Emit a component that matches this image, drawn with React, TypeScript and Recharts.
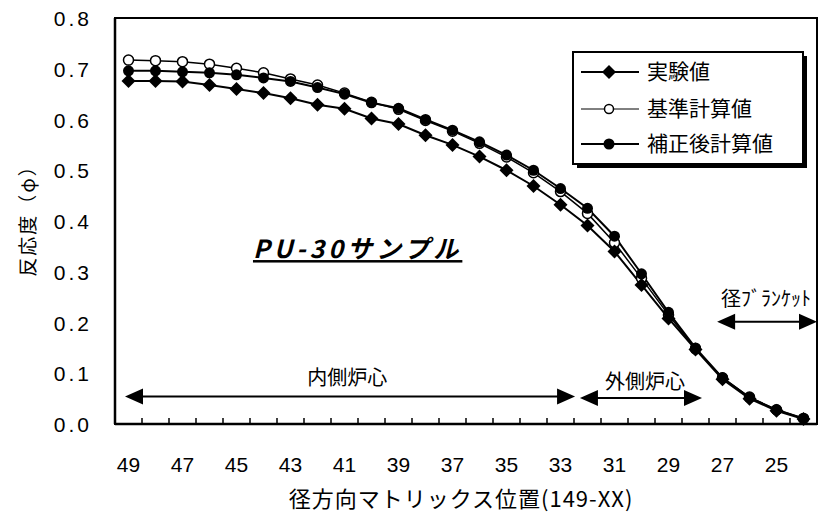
import { LineChart, Line, XAxis, YAxis, ReferenceArea, ReferenceLine, ReferenceDot } from 'recharts';

// radial matrix position (149-XX), read right to left
const positions = [49, 48, 47, 46, 45, 44, 43, 42, 41, 40, 39, 38, 37, 36, 35, 34, 33, 32, 31, 30, 29, 28, 27, 26, 25, 24];
const measured = [0.676, 0.676, 0.675, 0.668, 0.66, 0.652, 0.642, 0.629, 0.621, 0.602, 0.591, 0.569, 0.55, 0.527, 0.5, 0.469, 0.432, 0.391, 0.34, 0.274, 0.208, 0.147, 0.088, 0.05, 0.026, 0.01];
const baseCalc = [0.717, 0.716, 0.714, 0.709, 0.701, 0.692, 0.68, 0.668, 0.652, 0.634, 0.62, 0.598, 0.577, 0.553, 0.526, 0.495, 0.458, 0.415, 0.357, 0.287, 0.215, 0.148, 0.091, 0.053, 0.028, 0.011];
const correctedCalc = [0.696, 0.696, 0.694, 0.692, 0.688, 0.682, 0.675, 0.663, 0.65, 0.633, 0.622, 0.6, 0.579, 0.556, 0.53, 0.5, 0.464, 0.425, 0.37, 0.296, 0.22, 0.15, 0.091, 0.052, 0.028, 0.011];

const xTickLabels = [49, 47, 45, 43, 41, 39, 37, 35, 33, 31, 29, 27, 25];
const xTickMarks = [48.5, 47.5, 46.5, 45.5, 44.5, 43.5, 42.5, 41.5, 40.5, 39.5, 38.5, 37.5, 36.5, 35.5, 34.5, 33.5, 32.5, 31.5, 30.5, 29.5, 28.5, 27.5, 26.5, 25.5, 24.5];
const yTicks = [0, 0.1, 0.2, 0.3, 0.4, 0.5, 0.6, 0.7, 0.8];

const seriesNames = ['実験値', '基準計算値', '補正後計算値'];

const FONT = "'Liberation Sans', Arial, 'Noto Sans CJK JP', sans-serif";
const JP = "'Noto Sans CJK JP', 'Liberation Sans', sans-serif";

const data = positions.map((pos, i) => ({
  pos,
  measured: measured[i],
  base: baseCalc[i],
  corrected: correctedCalc[i],
}));

const diamond = (p: any) => {
  const { cx, cy, index } = p;
  const s = 7;
  return <polygon key={index} points={`${cx},${cy - s} ${cx + s},${cy} ${cx},${cy + s} ${cx - s},${cy}`} fill="#000" />;
};
const filledDot = (p: any) => <circle key={p.index} cx={p.cx} cy={p.cy} r={5.5} fill="#000" />;
const openDot = (p: any) => <circle key={p.index} cx={p.cx} cy={p.cy} r={5} fill="#fff" stroke="#000" strokeWidth={1.5} />;

const XTick = (p: any) => {
  const { x, y, payload } = p;
  const v = payload.value;
  if (Number.isInteger(v)) {
    return (
      <text x={x} y={y + 48} textAnchor="middle" fontSize={21} fontFamily={FONT} fill="#000">
        {v}
      </text>
    );
  }
  return <line x1={x} y1={y} x2={x} y2={y - 6} stroke="#000" strokeWidth={1.5} />;
};

const YTick = (p: any) => {
  const { x, y, payload } = p;
  return (
    <text x={x} y={y + 8} textAnchor="end" fontSize={21} fontFamily={FONT} letterSpacing={3} fill="#000">
      {payload.value.toFixed(1)}
    </text>
  );
};

const arrow = (p: any) => {
  const { x1, y1, x2, y2 } = p;
  const h = 18;
  const w = 8;
  return (
    <g>
      <line x1={x1 + h - 2} y1={y1} x2={x2 - h + 2} y2={y2} stroke="#000" strokeWidth={2} />
      <polygon points={`${x1},${y1} ${x1 + h},${y1 - w} ${x1 + h},${y1 + w}`} fill="#000" />
      <polygon points={`${x2},${y2} ${x2 - h},${y2 - w} ${x2 - h},${y2 + w}`} fill="#000" />
    </g>
  );
};

const note = (text: string, size: number, anchor: string = 'middle', extra: any = {}) => (p: any) => (
  <text x={p.cx} y={p.cy} textAnchor={anchor} fontSize={size} fontFamily={JP} fill="#000" {...extra}>
    {text}
  </text>
);

function LegendBox() {
  const rows = [
    { name: seriesNames[0], mark: <polygon points="37,-7 44,0 37,7 30,0" fill="#000" />, sw: 2 },
    { name: seriesNames[1], mark: <circle cx={37} cy={0} r={4.5} fill="#fff" stroke="#000" strokeWidth={1.5} />, sw: 1 },
    { name: seriesNames[2], mark: <circle cx={37} cy={0} r={5.5} fill="#000" />, sw: 2 },
  ];
  const rowY = [21, 58, 93];
  return (
    <svg width={240} height={120} style={{ position: 'absolute', left: 572, top: 51 }}>
      <rect x={5} y={5} width={230} height={112} fill="#000" />
      <rect x={1} y={1} width={230} height={112} fill="#fff" stroke="#000" strokeWidth={2} />
      {rows.map((r, i) => (
        <g key={r.name} transform={`translate(0, ${rowY[i]})`}>
          <line x1={9} y1={0} x2={67} y2={0} stroke="#000" strokeWidth={r.sw} />
          {r.mark}
          <text x={75} y={7} fontSize={21} fontFamily={JP} fill="#000">
            {r.name}
          </text>
        </g>
      ))}
    </svg>
  );
}

export default function App() {
  return (
    <div style={{ position: 'absolute', left: 0, top: 0, width: 818, height: 531, background: '#fff' }}>
      <LineChart width={818} height={531} data={data} margin={{ top: 18, right: 1, bottom: 0, left: 0 }}>
        <ReferenceArea x1={49.5} x2={23.5} y1={0} y2={0.8} fill="#fff" fillOpacity={0} stroke="#000" strokeWidth={2} />
        <XAxis
          dataKey="pos"
          type="number"
          domain={[23.5, 49.5]}
          reversed
          ticks={[...xTickLabels, ...xTickMarks]}
          interval={0}
          tick={<XTick />}
          tickLine={false}
          tickSize={0}
          tickMargin={0}
          axisLine={{ stroke: '#000', strokeWidth: 2.5 }}
          height={107}
          label={{
            content: (p: any) => (
              <text
                x={p.viewBox.x + p.viewBox.width / 2 - 5}
                y={p.viewBox.y + 83}
                textAnchor="middle"
                fontSize={22}
                letterSpacing={1}
                fontFamily={JP}
                fill="#000"
              >
                径方向マトリックス位置(149-XX)
              </text>
            ),
          }}
        />
        <YAxis
          type="number"
          domain={[0, 0.8]}
          ticks={yTicks}
          interval={0}
          tick={<YTick />}
          tickLine={false}
          tickSize={0}
          tickMargin={23}
          axisLine={{ stroke: '#000', strokeWidth: 2.5 }}
          width={115}
          label={{
            content: () => (
              <text
                x={26}
                y={216}
                transform="rotate(-90, 26, 216)"
                textAnchor="middle"
                dominantBaseline="central"
                fontSize={19}
                letterSpacing={2}
                fontFamily={JP}
                fill="#000"
              >
                反応度（φ）
              </text>
            ),
          }}
        />
        <ReferenceLine segment={[{ x: 49.13, y: 0.054 }, { x: 32.46, y: 0.054 }]} shape={arrow} ifOverflow="visible" />
        <ReferenceLine segment={[{ x: 32.28, y: 0.051 }, { x: 27.76, y: 0.051 }]} shape={arrow} ifOverflow="visible" />
        <ReferenceLine segment={[{ x: 27.2, y: 0.2016 }, { x: 23.5, y: 0.2016 }]} shape={arrow} ifOverflow="visible" />
        <ReferenceDot x={40.9} y={0.077} r={0} ifOverflow="visible" shape={note('内側炉心', 20)} />
        <ReferenceDot x={29.87} y={0.069} r={0} ifOverflow="visible" shape={note('外側炉心', 20)} />
        <ReferenceDot x={25.39} y={0.2325} r={0} ifOverflow="visible" shape={note('径ﾌﾞﾗﾝｹｯﾄ', 20)} />
        <ReferenceDot
          x={44.39}
          y={0.327}
          r={0}
          ifOverflow="visible"
          shape={note('PU-30サンプル', 25, 'start', {
            fontStyle: 'italic',
            fontWeight: 'bold',
            letterSpacing: 4,
            textDecoration: 'underline',
          })}
        />
        <Line dataKey="base" name={seriesNames[1]} stroke="#000" strokeWidth={1.5} dot={openDot} isAnimationActive={false} />
        <Line dataKey="corrected" name={seriesNames[2]} stroke="#000" strokeWidth={2} dot={filledDot} isAnimationActive={false} />
        <Line dataKey="measured" name={seriesNames[0]} stroke="#000" strokeWidth={2} dot={diamond} isAnimationActive={false} />
      </LineChart>
      <LegendBox />
    </div>
  );
}
